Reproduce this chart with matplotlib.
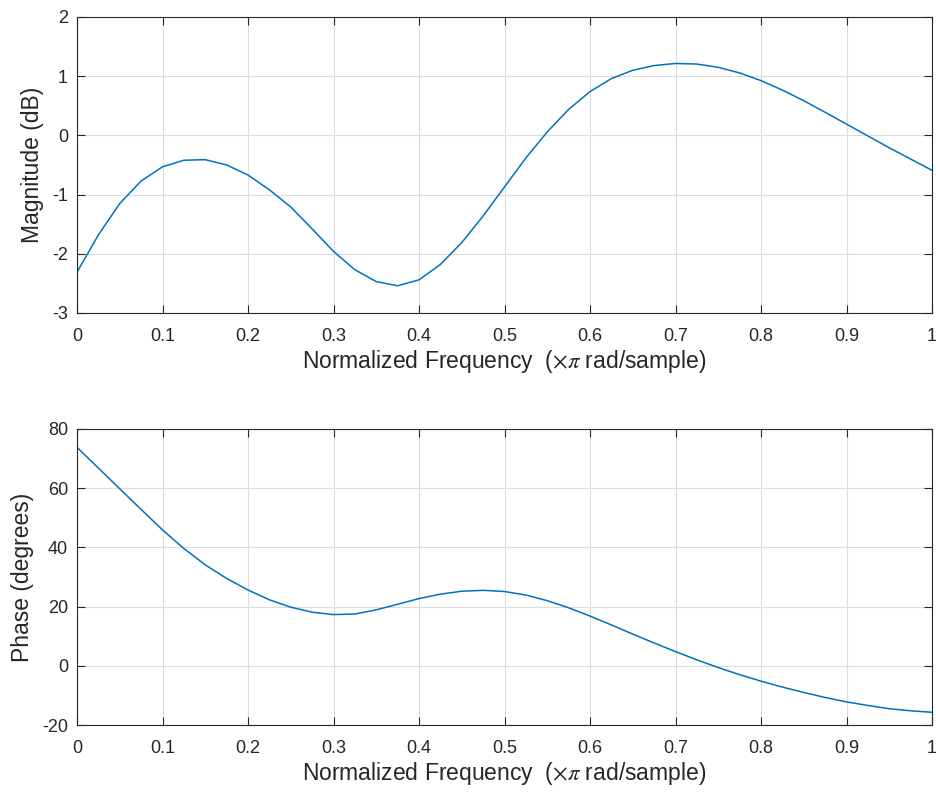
import matplotlib
matplotlib.use("Agg")
from matplotlib import pyplot as plt
import numpy as np

plt.rcParams['font.family'] = ['Liberation Sans', 'DejaVu Sans']
plt.rcParams['mathtext.fontset'] = 'stix'
plt.rcParams['axes.unicode_minus'] = False

# normalized frequency (x pi rad/sample)
freq = [0.000, 0.025, 0.050, 0.075, 0.100, 0.125, 0.150, 0.175, 0.200, 0.225,
        0.250, 0.275, 0.300, 0.325, 0.350, 0.375, 0.400, 0.425, 0.450, 0.475,
        0.500, 0.525, 0.550, 0.575, 0.600, 0.625, 0.650, 0.675, 0.700, 0.725,
        0.750, 0.775, 0.800, 0.825, 0.850, 0.875, 0.900, 0.925, 0.950, 0.975,
        1.000]

# magnitude (dB)
mag = [-2.31, -1.68, -1.15, -0.77, -0.53, -0.42, -0.41, -0.50, -0.67, -0.92,
       -1.21, -1.58, -1.96, -2.27, -2.47, -2.54, -2.44, -2.18, -1.81, -1.36,
       -0.87, -0.38, 0.06, 0.44, 0.74, 0.96, 1.10, 1.18, 1.215, 1.205,
       1.15, 1.055, 0.925, 0.765, 0.585, 0.39, 0.19, -0.01, -0.21, -0.40,
       -0.59]

# phase (degrees)
phase = [73.8, 66.8, 59.8, 52.8, 45.9, 39.6, 34.1, 29.5, 25.6, 22.3,
         19.8, 18.1, 17.3, 17.5, 18.9, 20.8, 22.7, 24.2, 25.2, 25.5,
         25.1, 23.9, 22.0, 19.6, 16.8, 13.8, 10.7, 7.7, 4.8, 2.0,
         -0.6, -3.0, -5.2, -7.2, -9.0, -10.7, -12.2, -13.4, -14.5, -15.2,
         -15.7]

xticks = [0, 0.1, 0.2, 0.3, 0.4, 0.5, 0.6, 0.7, 0.8, 0.9, 1]
xticklabels = ['0', '0.1', '0.2', '0.3', '0.4', '0.5', '0.6', '0.7', '0.8', '0.9', '1']
mag_ticks = [-3, -2, -1, 0, 1, 2]
phase_ticks = [-20, 0, 20, 40, 60, 80]

LINE = '#0072BD'
DARK = '#262626'
XLABEL = r'Normalized Frequency  ($\times\pi$ rad/sample)'

fig = plt.figure(figsize=(9.36, 7.94), dpi=100)
ax1 = fig.add_axes([0.0823, 0.6058, 0.9135, 0.3728])
ax2 = fig.add_axes([0.0823, 0.0869, 0.9135, 0.3728])

def style(ax, yticks, ylabel):
    ax.set_xlim(0, 1)
    ax.set_ylim(yticks[0], yticks[-1])
    ax.set_xticks(xticks)
    ax.set_xticklabels(xticklabels)
    ax.set_yticks(yticks)
    ax.set_yticklabels([str(t) for t in yticks])
    ax.grid(True, color='#dcdcdc', linewidth=0.8)
    ax.set_axisbelow(True)
    for s in ax.spines.values():
        s.set_color(DARK)
        s.set_linewidth(0.8)
    ax.tick_params(axis='both', direction='in', length=6, width=0.8,
                   top=True, right=True, colors=DARK, labelsize=13)
    ax.tick_params(axis='x', pad=10.5)
    ax.tick_params(axis='y', pad=6.5)
    ax.set_xlabel(XLABEL, fontsize=16.5, color=DARK, labelpad=2.5)
    ax.set_ylabel(ylabel, fontsize=16.5, color=DARK, labelpad=6)

ax1.plot(freq, mag, color=LINE, linewidth=1.1)
style(ax1, mag_ticks, 'Magnitude (dB)')

ax2.plot(freq, phase, color=LINE, linewidth=1.1)
style(ax2, phase_ticks, 'Phase (degrees)')

fig.savefig('out.png', dpi=100)
